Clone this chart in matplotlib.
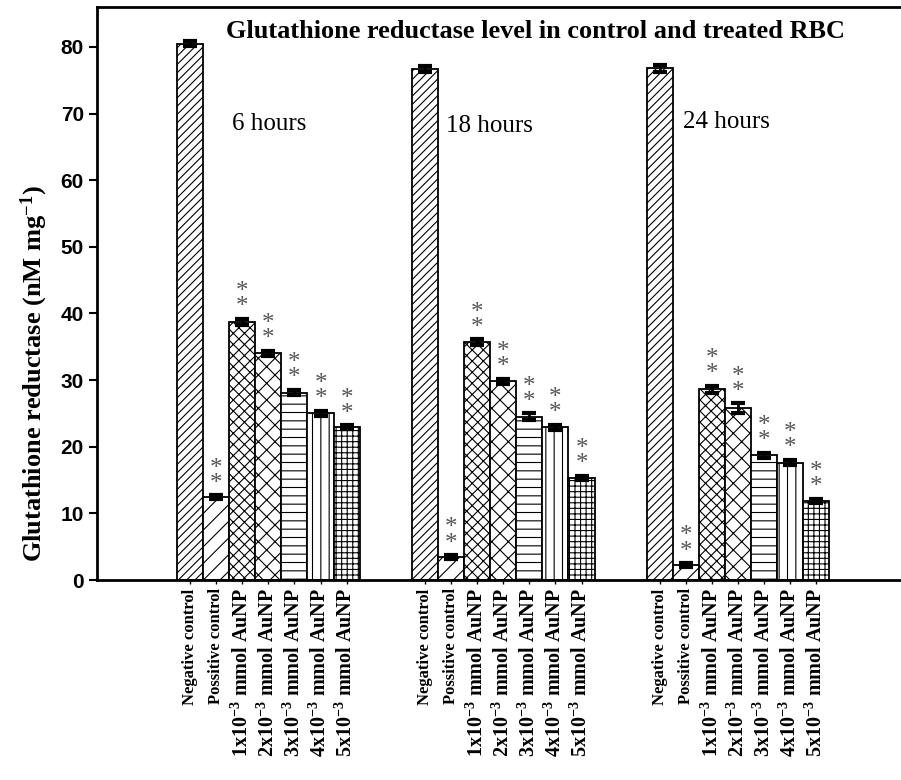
import matplotlib
matplotlib.use("Agg")
import matplotlib.pyplot as plt
import numpy as np

plt.rcParams['hatch.linewidth'] = 0.8
plt.rcParams['mathtext.fontset'] = 'custom'
plt.rcParams['mathtext.rm'] = 'Liberation Serif:bold'
plt.rcParams['mathtext.bf'] = 'Liberation Serif:bold'
plt.rcParams['mathtext.it'] = 'Liberation Serif:bold'
plt.rcParams['mathtext.default'] = 'bf'

groups = ["6 hours", "18 hours", "24 hours"]
categories = ["Negative control", "Possitive control",
              "1x10$^{-3}$ mmol AuNP", "2x10$^{-3}$ mmol AuNP",
              "3x10$^{-3}$ mmol AuNP", "4x10$^{-3}$ mmol AuNP",
              "5x10$^{-3}$ mmol AuNP"]
values_6h = [80.5, 12.4, 38.7, 34.0, 28.1, 25.0, 22.9]
values_18h = [76.7, 3.4, 35.7, 29.8, 24.5, 22.9, 15.3]
values_24h = [76.8, 2.2, 28.6, 25.8, 18.7, 17.6, 11.9]
err_6h = [0.4, 0.3, 0.5, 0.4, 0.4, 0.4, 0.3]
err_18h = [0.4, 0.3, 0.4, 0.4, 0.5, 0.4, 0.3]
err_24h = [0.5, 0.3, 0.5, 0.7, 0.4, 0.4, 0.3]
significant = [False, True, True, True, True, True, True]
hatches = ['////', '//', 'xxx', 'xx', '--', '||', '+++']

all_vals = [values_6h, values_18h, values_24h]
all_errs = [err_6h, err_18h, err_24h]

fig = plt.figure(figsize=(9.01, 7.80), dpi=100)
ax = fig.add_axes([97/901, 1-580/780, 1-97/901, (580-7)/780])

serif = ['Liberation Serif', 'DejaVu Serif']
n = len(categories)
xs_all, labels_all = [], []
for g, (vals, errs) in enumerate(zip(all_vals, all_errs)):
    xs = np.arange(n) + g * (n + 2)
    for i, (x, v, e) in enumerate(zip(xs, vals, errs)):
        ax.bar(x, v, width=1.0, color='white', edgecolor='black',
               linewidth=1.3, hatch=hatches[i], zorder=2)
        ax.errorbar(x, v, yerr=e, fmt='none', ecolor='black', elinewidth=2,
                    capsize=5, capthick=3, zorder=3)
        if significant[i]:
            ax.text(x, v + e + 0.1, "*\n*", ha='center', va='bottom',
                    fontsize=18, color='#555555', linespacing=0.6,
                    family=serif)
    xs_all.extend(xs)
    labels_all.extend(categories)

hour_x = [1.61, 9.81, 18.89]
hour_y = [68.5, 68.1, 68.7]
for g, name in enumerate(groups):
    ax.text(hour_x[g], hour_y[g], name, ha='left', va='center', fontsize=18,
            family=serif)

ax.text(13.25, 82.3, "Glutathione reductase level in control and treated RBC",
        ha='center', va='center', fontsize=18.9, fontweight='bold', family=serif)

ax.set_xlim(-3.565, 27.24)
ax.set_ylim(0, 86)
ax.set_yticks(np.arange(0, 81, 10))
ax.set_xticks(xs_all)
ax.set_xticklabels(labels_all, rotation=90, fontweight='bold', family=serif)
for k, lab in enumerate(ax.get_xticklabels()):
    lab.set_fontsize(12 if k % n < 2 else 14.5)
for lab in ax.get_yticklabels():
    lab.set_fontweight('bold')
    lab.set_family(['Liberation Sans'])
    lab.set_fontsize(15)
ax.tick_params(axis='y', direction='out', length=6, width=1.5)
ax.tick_params(axis='x', direction='out', length=3, width=1, pad=3)
for s in ['left', 'bottom', 'top']:
    ax.spines[s].set_linewidth(2)
ax.spines['right'].set_visible(False)
ax.set_ylabel("Glutathione reductase (nM mg$^{-1}$)", fontsize=19,
              fontweight='bold', family=serif)
ax.yaxis.set_label_coords(-0.058, 0.36)

fig.savefig("out.png", dpi=100)
